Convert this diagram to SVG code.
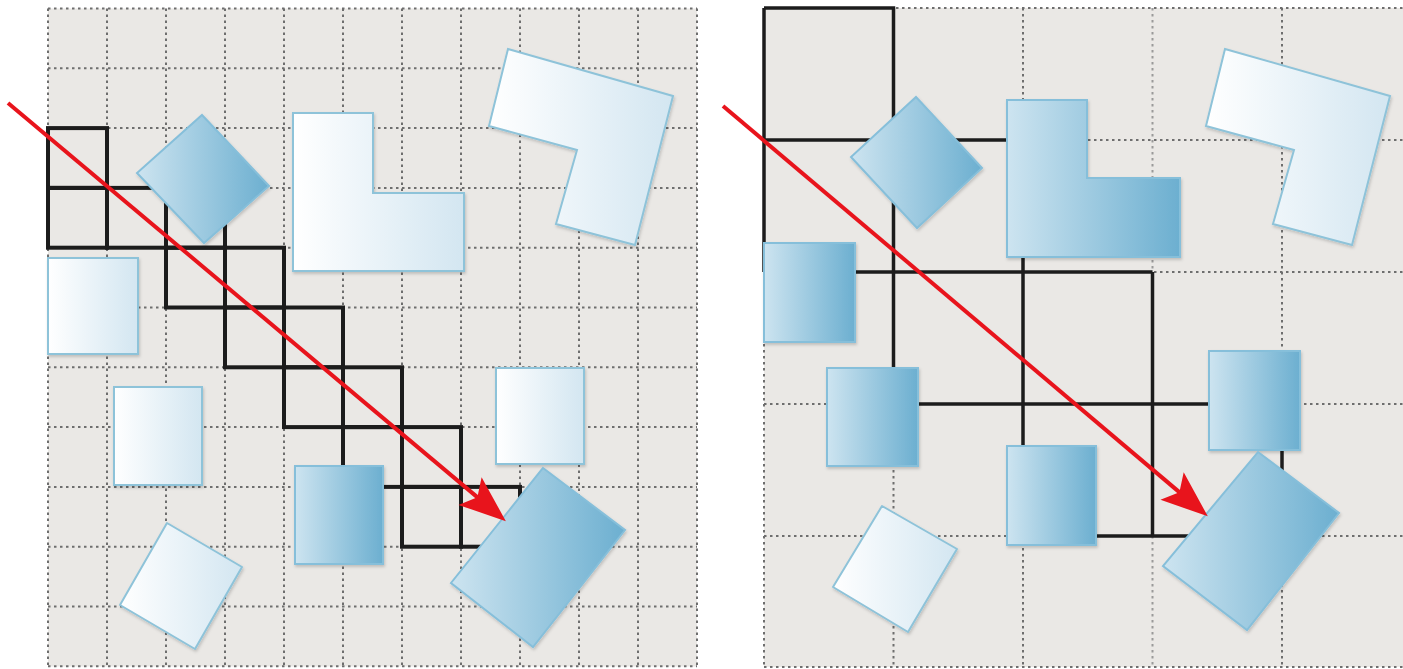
<svg xmlns="http://www.w3.org/2000/svg" width="1403" height="669" viewBox="0 0 1403 669">
<defs>
<linearGradient id="gLight" x1="0" y1="0" x2="1" y2="0"><stop offset="0" stop-color="#ffffff"/><stop offset="1" stop-color="#d3e6f1"/></linearGradient>
<linearGradient id="gDark" x1="0" y1="0" x2="1" y2="0"><stop offset="0" stop-color="#cde4f0"/><stop offset="1" stop-color="#6cafd0"/></linearGradient>
<filter id="sh" x="-10%" y="-10%" width="130%" height="130%"><feDropShadow dx="1" dy="2" stdDeviation="1.5" flood-color="#000" flood-opacity="0.18"/></filter>
<marker id="ah" markerUnits="userSpaceOnUse" markerWidth="60" markerHeight="60" refX="0" refY="0" orient="auto" viewBox="-20 -20 50 40" overflow="visible">
<path d="M25,0 L-14,-15 L-6,0 L-14,15 Z" fill="#e8141c"/>
</marker>
<style>
.bg{fill:#eae8e5}
.dot{stroke:#6e6e6e;stroke-width:2;stroke-dasharray:2.5 3.5;fill:none}
.dotl{stroke:#9a9a9a;stroke-width:2;stroke-dasharray:2.5 3.5;fill:none}
.cell{fill:none;stroke:#1c1c1c;stroke-width:4}
.blk{fill:none;stroke:#1c1c1c;stroke-width:3.5}
.light{fill:url(#gLight);stroke:#8ec3d9;stroke-width:2;filter:url(#sh)}
.dark{fill:url(#gDark);stroke:#86bfda;stroke-width:2;filter:url(#sh)}
.ray{stroke:#e8141c;stroke-width:4;fill:none;marker-end:url(#ah)}
</style>
</defs>
<rect width="1403" height="669" fill="#ffffff"/>

<g id="left-panel">
<rect class="bg" x="48" y="8.5" width="649" height="658"/>
<g id="left-grid">
<path class="dot" d="M48,8.5V666.3M107,8.5V666.3M166,8.5V666.3M225,8.5V666.3M284,8.5V666.3M343,8.5V666.3M402,8.5V666.3M461,8.5V666.3M520,8.5V666.3M579,8.5V666.3M638,8.5V666.3M697,8.5V666.3"/>
<path class="dot" d="M48,8.5H697M48,68.3H697M48,128.1H697M48,187.9H697M48,247.7H697M48,307.5H697M48,367.3H697M48,427.1H697M48,486.9H697M48,546.7H697M48,606.5H697M48,666.3H697"/>
</g>
<g id="left-cells">
<rect class="cell" x="48" y="128.1" width="59" height="59.8"/>
<rect class="cell" x="48" y="187.9" width="59" height="59.8"/>
<rect class="cell" x="107" y="187.9" width="59" height="59.8"/>
<rect class="cell" x="166" y="187.9" width="59" height="59.8"/>
<rect class="cell" x="166" y="247.7" width="59" height="59.8"/>
<rect class="cell" x="225" y="247.7" width="59" height="59.8"/>
<rect class="cell" x="225" y="307.5" width="59" height="59.8"/>
<rect class="cell" x="284" y="307.5" width="59" height="59.8"/>
<rect class="cell" x="284" y="367.3" width="59" height="59.8"/>
<rect class="cell" x="343" y="367.3" width="59" height="59.8"/>
<rect class="cell" x="343" y="427.1" width="59" height="59.8"/>
<rect class="cell" x="402" y="427.1" width="59" height="59.8"/>
<rect class="cell" x="402" y="486.9" width="59" height="59.8"/>
<rect class="cell" x="461" y="486.9" width="59" height="59.8"/>
</g>
</g>

<g id="right-panel">
<rect class="bg" x="764" y="8" width="639" height="659"/>
<g id="right-grid">
<path class="dot" d="M764,8V667M893.5,8V667M1023,8V667M1282,8V667"/>
<path class="dotl" d="M1152.5,8V667"/>
<path class="dot" d="M764,8H1403M764,140H1403M764,272H1403M764,404H1403M764,536H1403M764,667H1403"/>
</g>
<g id="right-cells">
<path class="blk" d="M764,8H893.5V404M764,8V272M764,140H1023M764,272H1152.5M893.5,404H1282M1023,140V536M1152.5,272V536M1023,536H1282M1282,404V536"/>
</g>
</g>

<g id="l-diamond"><polygon class="dark" points="202,115 269,186 204,243 137,173"/></g>
<g id="l-lshape"><polygon class="light" points="293,113 373,113 373,193 464,193 464,271 293,271"/></g>
<g id="l-rot-l"><polygon class="light" points="508,49 673,96 635,245 556,224 577,150 489,126"/></g>
<g id="l-sq1"><rect class="light" x="48" y="258" width="90" height="96"/></g>
<g id="l-sq2"><rect class="light" x="114" y="387" width="88" height="98"/></g>
<g id="l-rot-sq"><polygon class="light" points="167,523 242,567 195,649 120,605" stroke-linejoin="round"/></g>
<g id="l-dark-sq"><rect class="dark" x="295" y="466" width="88" height="98"/></g>
<g id="l-sq3"><rect class="light" x="496" y="368" width="88" height="96"/></g>
<g id="l-rot-rect"><polygon class="dark" points="543,468 625,530 533,647 451,583"/></g>

<g id="r-diamond"><polygon class="dark" points="916,97 982,168 917,228 851,157"/></g>
<g id="r-lshape"><polygon class="dark" points="1007,100 1087,100 1087,178 1180,178 1180,257 1007,257"/></g>
<g id="r-rot-l"><polygon class="light" points="1225,49 1390,96 1352,245 1273,224 1294,150 1206,126"/></g>
<g id="r-sq1"><rect class="dark" x="764" y="243" width="91" height="99"/></g>
<g id="r-sq2"><rect class="dark" x="827" y="368" width="91" height="98"/></g>
<g id="r-sq3"><rect class="dark" x="1007" y="446" width="89" height="99"/></g>
<g id="r-sq4"><rect class="dark" x="1209" y="351" width="91" height="99"/></g>
<g id="r-rot-rect"><polygon class="dark" points="1258,452 1339,513 1247,630 1163,566"/></g>
<g id="r-rot-sq"><polygon class="light" points="882,506 957,549 908,632 833,587" stroke-linejoin="round"/></g>

<g id="connectors">
<line class="ray" x1="8" y1="103" x2="482.9" y2="501.9"/>
<line class="ray" x1="723" y1="106" x2="1184.9" y2="496.9"/>
</g>
</svg>
